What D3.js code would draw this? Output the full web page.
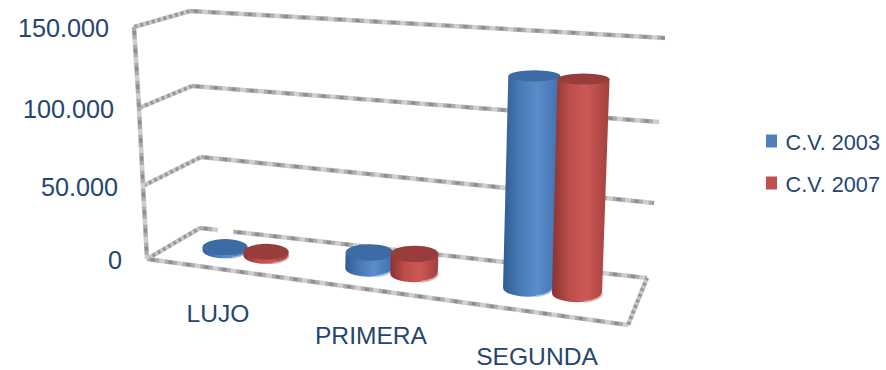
<!DOCTYPE html>
<html>
<head>
<meta charset="utf-8">
<script src="https://cdn.jsdelivr.net/npm/d3@7/dist/d3.min.js"></script>
<style>
  html, body { margin: 0; padding: 0; background: #fff; }
  svg { display: block; }
  text { font-family: "Liberation Sans", Arial, sans-serif; fill: #24466f; }
</style>
</head>
<body>
<svg id="chart" width="886" height="370"></svg>
<script>
// Chart data
const categories = ["LUJO", "PRIMERA", "SEGUNDA"];
const seriesNames = ["C.V. 2003", "C.V. 2007"];
const values2003 = [2000, 10000, 133500];
const values2007 = [2500, 12500, 135000];
const yTicks = [0, 50000, 100000, 150000];
const tickLabels = ["0", "50.000", "100.000", "150.000"];
const seriesFill = ["#4f81bd", "#c0504d"];
const wallStops = [
  ["#2f5c92", "#4a7ab6", "#5b8ccb", "#3f6fab"],
  ["#893331", "#bb4d4a", "#cd5956", "#a23f3d"]
];
const seriesTop = ["#3d6ba3", "#983d3b"];
const seriesPale = ["#a9c2e0", "#e0aaa8"];

const svg = d3.select("#chart");
const defs = svg.append("defs");

// Corners of the projected box, one scale per vertical edge of the frame
const frontX = d3.scaleLinear().domain(yTicks).range([147, 143, 139, 134]);
const frontY = d3.scaleLinear().domain(yTicks).range([259, 186, 108, 27]);
const backX = d3.scaleLinear().domain(yTicks).range([200, 201, 192, 190]);
const backY = d3.scaleLinear().domain(yTicks).range([228, 157, 86, 11]);
const rightX = d3.scaleLinear().domain(yTicks).range([647, 654, 659, 665]);
const rightY = d3.scaleLinear().domain(yTicks).range([278, 203, 122, 38]);
const floorFront = { x: 628, y: 325 };

// Cylinder placement on the floor, by category index
const catIndex = d3.scalePoint().domain(categories).range([0, 2]);
const baseX = d3.scaleLinear().domain([0, 1, 2]).range([245.5, 391.5, 552.5]);
const baseY = d3.scaleLinear().domain([0, 1, 2]).range([253, 271, 290.5]);
const pairGap = d3.scaleLinear().domain([0, 1, 2]).range([41, 45, 49]);
const radiusX = d3.scaleLinear().domain([0, 2]).range([22.5, 25]);
const radiusY = d3.scaleLinear().domain([0, 2]).range([8, 9]);
const heightScale = d3.scaleLinear().domain([0, 150000]).range([0, 238]);

// Grey frame: layered dashes build the blocky gridline texture
function frameLine(points, period) {
  const line = d3.line()(points);
  const draw = (color, width, dash, offset) =>
    svg.append("path").attr("d", line).attr("fill", "none")
      .attr("stroke", color).attr("stroke-width", width)
      .attr("stroke-dasharray", dash).attr("stroke-dashoffset", offset);
  draw("#cfcfcf", 4.6, null, 0);
  draw("#adadad", 4, `${period * 0.68} ${period * 0.32}`, 0);
  draw("#8e8e8e", 3.2, `${period * 0.25} ${period * 0.75}`, -period * 0.2);
}

const longPeriod = 18;
const shortPeriod = 6;

yTicks.forEach(v => {
  const back = [backX(v), backY(v)];
  const right = [rightX(v), rightY(v)];
  frameLine([[frontX(v), frontY(v)], back], shortPeriod);
  if (v === 0) {
    // The floor's back edge breaks just behind the first cylinder
    const along = d3.interpolate(back, right);
    frameLine([back, along(0.04)], longPeriod);
    frameLine([along(0.075), right], longPeriod);
  } else {
    frameLine([back, right], longPeriod);
  }
});
frameLine([[frontX(0), frontY(0)], [floorFront.x, floorFront.y]], longPeriod);
frameLine([[floorFront.x, floorFront.y], [rightX(0), rightY(0)]], shortPeriod);
frameLine([
  [frontX(150000), frontY(150000)],
  [frontX(100000), frontY(100000)],
  [frontX(50000), frontY(50000)],
  [frontX(0), frontY(0)]
], longPeriod);

// Horizontal shading across each cylinder wall
seriesNames.forEach((name, s) => {
  const g = defs.append("linearGradient").attr("id", "wall" + s)
    .attr("x1", 0).attr("x2", 1).attr("y1", 0).attr("y2", 0);
  [0, 0.3, 0.6, 1].forEach((t, k) => {
    g.append("stop").attr("offset", t).attr("stop-color", wallStops[s][k]);
  });
});

// Cylinders, drawn back to front, left to right
const allValues = [values2003, values2007];
categories.forEach(cat => {
  const i = catIndex(cat);
  seriesNames.forEach((name, s) => {
    const v = allValues[s][i];
    const h = heightScale(v);
    const slant = (s - 0.5);
    const cx = baseX(i) + slant * pairGap(i);
    const cy = baseY(i) + slant * 5.5;
    const rx = radiusX(i);
    const ry = radiusY(i);
    const tx = cx + h * 0.03;
    const ty = cy - h;
    const trx = rx * (1 + h * 0.0002);
    const tryy = ry * (1 - h * 0.0018);
    const wall = `M${cx - rx},${cy} L${tx - trx},${ty} L${tx + trx},${ty} L${cx + rx},${cy}`
      + ` A${rx},${ry} 0 0 1 ${cx - rx},${cy} Z`;
    svg.append("path").attr("d", wall).attr("fill", `url(#wall${s})`);
    svg.append("path")
      .attr("d", `M${cx + rx},${cy} A${rx},${ry} 0 0 1 ${cx + rx * 0.3},${cy + ry * 0.95}`)
      .attr("fill", "none").attr("stroke", seriesPale[s])
      .attr("stroke-width", 2).attr("opacity", 0.8);
    svg.append("ellipse")
      .attr("cx", tx).attr("cy", ty).attr("rx", trx).attr("ry", tryy)
      .attr("fill", seriesTop[s]);
  });
});

// Value axis labels follow the slanted front edge
svg.selectAll("text.tick").data(yTicks).join("text")
  .attr("class", "tick")
  .attr("x", d => frontX(d) - 25)
  .attr("y", d => frontY(d) + 10)
  .attr("text-anchor", "end")
  .attr("font-size", 25.2)
  .text((d, i) => tickLabels[i]);

// Category labels step down with the floor
const labelX = d3.scaleLinear().domain([0, 1, 2]).range([218, 371, 537]);
const labelY = d3.scaleLinear().domain([0, 1, 2]).range([322, 344, 365]);
svg.selectAll("text.cat").data(categories).join("text")
  .attr("class", "cat")
  .attr("x", d => labelX(catIndex(d)))
  .attr("y", d => labelY(catIndex(d)))
  .attr("text-anchor", "middle")
  .attr("font-size", 24.6)
  .text(d => d);

// Legend
const legendTop = d3.scaleLinear().domain([0, 1]).range([141, 183]);
const legend = svg.selectAll("g.legend").data(seriesNames).join("g")
  .attr("class", "legend")
  .attr("transform", (d, i) => `translate(766,${legendTop(i)})`);
legend.append("rect").attr("y", -6.5).attr("width", 11).attr("height", 13)
  .attr("fill", (d, i) => seriesFill[i]);
legend.append("text").attr("x", 19.5).attr("y", 9)
  .attr("font-size", 21.7).text(d => d);
</script>
</body>
</html>
